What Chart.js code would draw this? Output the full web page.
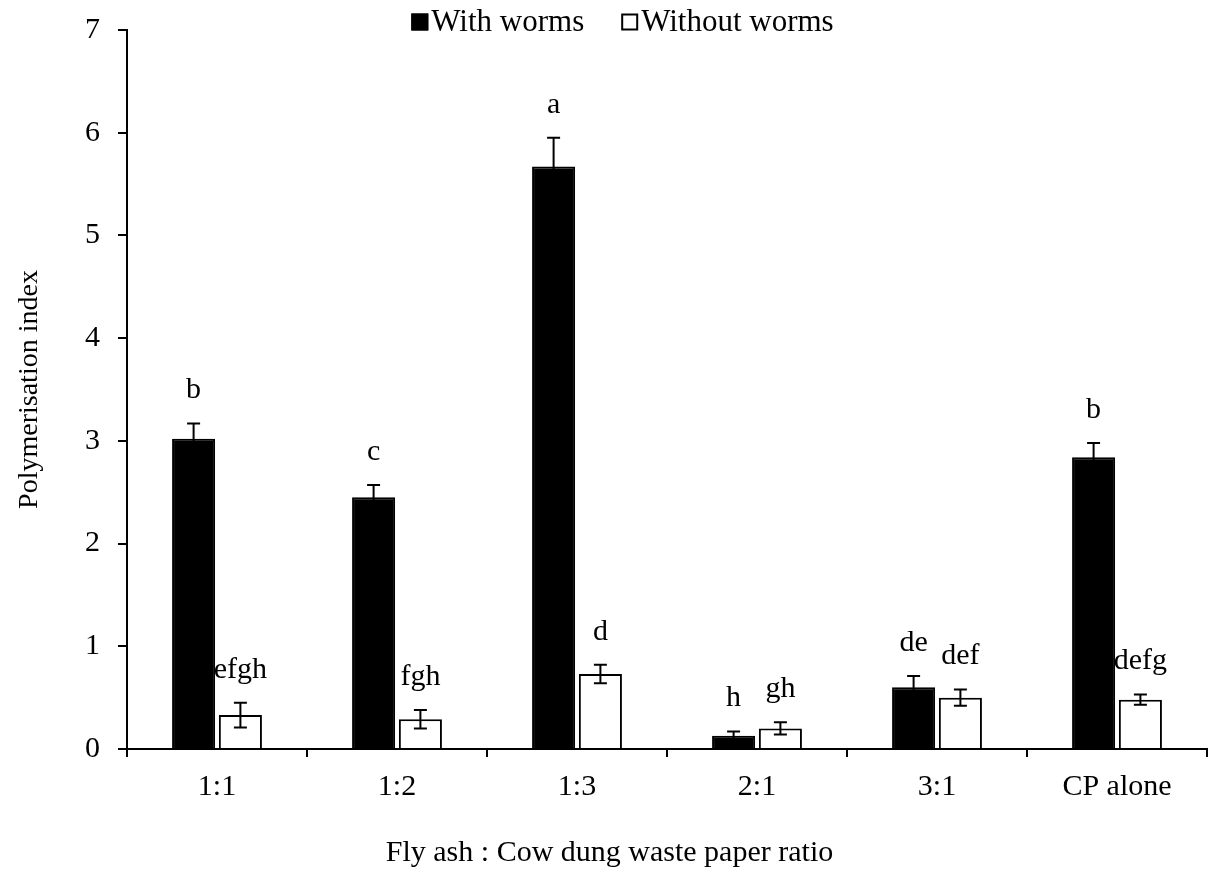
<!DOCTYPE html>
<html>
<head>
<meta charset="utf-8">
<script src="https://cdn.jsdelivr.net/npm/chart.js@4"></script>
<style>
  body { margin: 0; background: #fff; }
  #wrap { width: 1211px; height: 875px; }
</style>
</head>
<body>
<div id="wrap"><canvas id="polyChart"></canvas></div>
<script>
// data
const categories = ['1:1', '1:2', '1:3', '2:1', '3:1', 'CP alone'];
const withWorms = [3.02, 2.45, 5.67, 0.13, 0.60, 2.84];
const withWormsErr = [0.15, 0.12, 0.28, 0.04, 0.11, 0.14];
const withoutWorms = [0.33, 0.29, 0.73, 0.20, 0.50, 0.48];
const withoutWormsErr = [0.12, 0.09, 0.09, 0.06, 0.08, 0.05];
const withWormsLetters = ['b', 'c', 'a', 'h', 'de', 'b'];
const withoutWormsLetters = ['efgh', 'fgh', 'd', 'gh', 'def', 'defg'];
const yMin = 0, yMax = 7, yStep = 1;
const xTitle = 'Fly ash : Cow dung waste paper ratio';

const FONT = '"Liberation Serif", "Times New Roman", serif';

// error bars + significance letters
const errorBarPlugin = {
    id: 'errorBars',
    afterDatasetsDraw(chart) {
        const ctx = chart.ctx;
        const yScale = chart.scales.y;
        chart.data.datasets.forEach(function(ds, di) {
            const meta = chart.getDatasetMeta(di);
            meta.data.forEach(function(bar, i) {
                const v = ds.data[i];
                const e = ds.errors[i];
                const top = yScale.getPixelForValue(v + e);
                const bot = yScale.getPixelForValue(Math.max(0, v - e));
                ctx.save();
                ctx.strokeStyle = '#000';
                ctx.lineWidth = 2;
                ctx.beginPath();
                ctx.moveTo(bar.x, top);
                ctx.lineTo(bar.x, bot);
                ctx.moveTo(bar.x - 6.5, top);
                ctx.lineTo(bar.x + 6.5, top);
                ctx.moveTo(bar.x - 6.5, bot);
                ctx.lineTo(bar.x + 6.5, bot);
                ctx.stroke();
                ctx.fillStyle = '#000';
                ctx.font = '30px ' + FONT;
                ctx.textAlign = 'center';
                ctx.textBaseline = 'middle';
                ctx.fillText(ds.letters[i], bar.x, top - 33);
                ctx.restore();
            });
        });
    }
};

// legend and x title drawn by hand (legend box sits right next to its text,
// x title is centred on the whole figure like the original)
const legendPlugin = {
    id: 'tightLegend',
    afterDraw(chart) {
        const ctx = chart.ctx;
        const box = 17, gap = 3, itemGap = 37;
        ctx.save();
        ctx.font = '31px ' + FONT;
        ctx.textBaseline = 'middle';
        ctx.textAlign = 'left';
        const items = chart.data.datasets.map(function(ds) {
            return { ds: ds, w: ctx.measureText(ds.label).width };
        });
        let total = 0;
        items.forEach(function(it, i) {
            total += box + gap + it.w + (i < items.length - 1 ? itemGap : 0);
        });
        let x = (chart.width - total) / 2 + 17;
        const cy = 22;
        items.forEach(function(it) {
            ctx.fillStyle = it.ds.backgroundColor;
            ctx.fillRect(x, cy - box / 2, box, box);
            ctx.strokeStyle = '#000';
            ctx.lineWidth = 2;
            ctx.strokeRect(x + 1, cy - box / 2 + 1, box - 2, box - 2);
            ctx.fillStyle = '#000';
            ctx.fillText(it.ds.label, x + box + gap, cy + 1);
            x += box + gap + it.w + itemGap;
        });

        ctx.font = '30px ' + FONT;
        ctx.textAlign = 'center';
        ctx.fillText(xTitle, chart.width / 2 + 4, chart.height - 22);
        ctx.restore();
    }
};

const ctx = document.getElementById('polyChart').getContext('2d');
new Chart(ctx, {
    type: 'bar',
    data: {
        labels: categories,
        datasets: [{
            label: 'With worms',
            data: withWorms,
            errors: withWormsErr,
            letters: withWormsLetters,
            backgroundColor: '#000',
            borderColor: '#000',
            borderWidth: 2,
            barPercentage: 0.92,
            categoryPercentage: 0.52
        }, {
            label: 'Without worms',
            data: withoutWorms,
            errors: withoutWormsErr,
            letters: withoutWormsLetters,
            backgroundColor: '#fff',
            borderColor: '#000',
            borderWidth: 2,
            barPercentage: 0.92,
            categoryPercentage: 0.52
        }]
    },
    options: {
        responsive: true,
        maintainAspectRatio: false,
        animation: false,
        layout: {
            padding: { top: 30, right: 4, bottom: 0, left: 0 }
        },
        scales: {
            x: {
                offset: true,
                afterFit: function(scale) {
                    scale.height = 126;
                    scale.paddingLeft = 0;
                    scale.paddingRight = 0;
                },
                grid: {
                    offset: true,
                    drawOnChartArea: false,
                    drawTicks: true,
                    tickLength: 8,
                    color: '#000',
                    lineWidth: 2
                },
                border: { color: '#000', width: 2 },
                ticks: {
                    color: '#000',
                    font: { family: FONT, size: 30 },
                    padding: 12,
                    maxRotation: 0
                },
                title: { display: false }
            },
            y: {
                min: yMin,
                max: yMax,
                afterFit: function(scale) {
                    scale.width = 127;
                    scale.paddingTop = 0;
                    scale.paddingBottom = 0;
                },
                grid: {
                    drawOnChartArea: false,
                    drawTicks: true,
                    tickLength: 9,
                    color: '#000',
                    lineWidth: 2
                },
                border: { color: '#000', width: 2 },
                ticks: {
                    stepSize: yStep,
                    color: '#000',
                    font: { family: FONT, size: 30 },
                    padding: 18
                },
                title: {
                    display: true,
                    text: 'Polymerisation index',
                    color: '#000',
                    font: { family: FONT, size: 28 },
                    padding: { top: 13, bottom: 0 }
                }
            }
        },
        plugins: {
            legend: { display: false },
            tooltip: { enabled: false }
        }
    },
    plugins: [errorBarPlugin, legendPlugin]
});
</script>
</body>
</html>
